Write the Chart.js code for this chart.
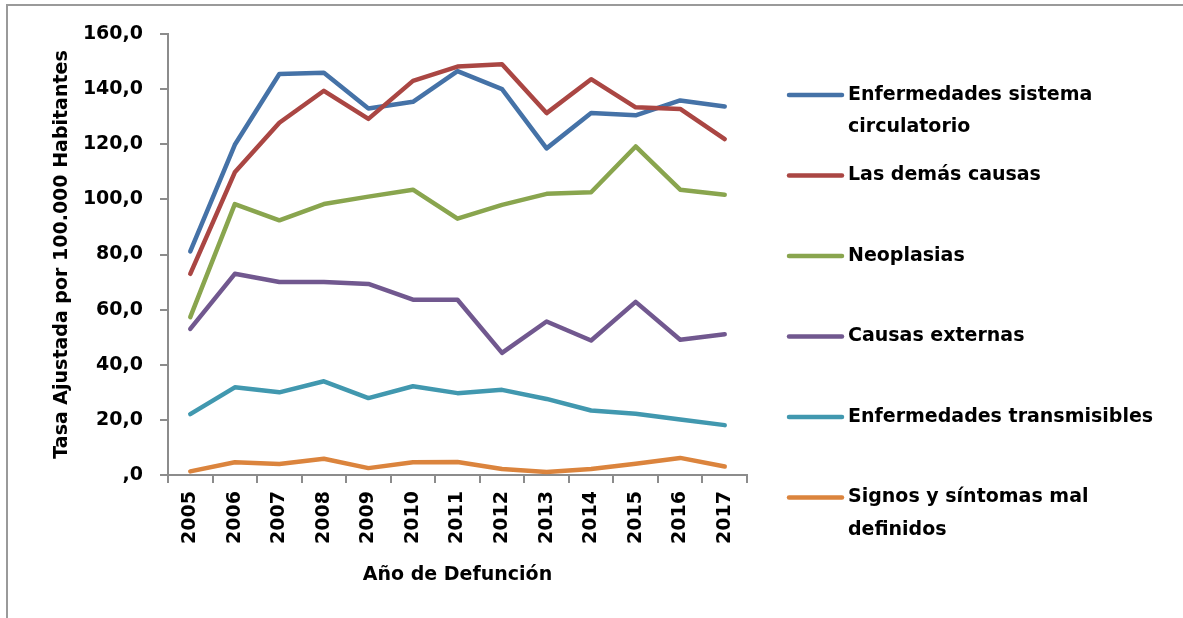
<!DOCTYPE html>
<html>
<head>
<meta charset="utf-8">
<script src="https://cdn.jsdelivr.net/npm/chart.js@4/dist/chart.umd.min.js"></script>
<style>
  html, body { margin: 0; padding: 0; background: #fff; }
  #wrap { position: relative; width: 1183px; height: 618px; overflow: hidden; }
  #frame { position: absolute; left: 6px; top: 4px; right: -4px; bottom: -4px;
           border-left: 2px solid #9a9a9a; border-top: 2px solid #9a9a9a; }
  canvas { position: absolute; left: 0; top: 0; }
</style>
</head>
<body>
<div id="wrap">
  <div id="frame"></div>
  <canvas id="chart" width="1183" height="618"></canvas>
</div>
<script>
  // años de defunción
  var years = ['2005','2006','2007','2008','2009','2010','2011','2012','2013','2014','2015','2016','2017'];

  // tasas ajustadas por 100.000 habitantes
  var circulatorio   = [81.1, 119.8, 145.5, 145.9, 133.0, 135.4, 146.5, 140.0, 118.5, 131.3, 130.5, 135.9, 133.7];
  var demasCausas    = [73.0, 109.8, 127.8, 139.4, 129.2, 143.0, 148.2, 149.0, 131.3, 143.6, 133.4, 132.8, 121.9];
  var neoplasias     = [57.3, 98.3, 92.4, 98.3, 101.0, 103.5, 93.0, 98.0, 102.0, 102.6, 119.2, 103.5, 101.7];
  var externas       = [53.0, 73.0, 70.0, 70.0, 69.3, 63.6, 63.6, 44.3, 55.7, 48.8, 62.8, 49.1, 51.1];
  var transmisibles  = [22.1, 31.8, 30.0, 34.0, 27.9, 32.2, 29.7, 30.9, 27.6, 23.4, 22.2, 20.1, 18.1];
  var malDefinidos   = [1.3, 4.6, 4.0, 5.9, 2.5, 4.6, 4.7, 2.2, 1.1, 2.2, 4.1, 6.2, 3.1];

  // leyenda (líneas de texto por serie)
  var legendText = [
    ['Enfermedades sistema', 'circulatorio'],
    ['Las demás causas'],
    ['Neoplasias'],
    ['Causas externas'],
    ['Enfermedades transmisibles'],
    ['Signos y síntomas mal', 'definidos']
  ];

  var yTicks = [0, 20, 40, 60, 80, 100, 120, 140, 160];

  var FONT = '"DejaVu Sans", sans-serif';
  var SIZE = 19;
  var AXIS = '#8c8c8c';

  function series(label, data, color, order) {
    return {
      label: label, data: data, borderColor: color, backgroundColor: color,
      borderWidth: 4.5, pointRadius: 0, tension: 0, fill: false,
      borderCapStyle: 'round', borderJoinStyle: 'round', order: order
    };
  }

  // ── Leyenda dibujada a la derecha ─────────────────────────────────────
  var sideLegend = {
    id: 'sideLegend',
    afterDraw: function (chart) {
      var ctx = chart.ctx;
      var y = 95;
      ctx.save();
      ctx.font = 'bold ' + SIZE + 'px ' + FONT;
      ctx.fillStyle = '#000';
      ctx.textBaseline = 'middle';
      ctx.lineCap = 'round';
      chart.data.datasets.forEach(function (ds, i) {
        ctx.strokeStyle = ds.borderColor;
        ctx.lineWidth = 4.5;
        ctx.beginPath();
        ctx.moveTo(789, y);
        ctx.lineTo(842, y);
        ctx.stroke();
        legendText[i].forEach(function (line, j) {
          ctx.fillText(line, 848, y + j * 32.5);
        });
        y += 80.5;
      });
      ctx.restore();
    }
  };

  var boldFont = { family: FONT, size: SIZE, weight: 'bold' };

  new Chart(document.getElementById('chart'), {
    type: 'line',
    data: {
      labels: years,
      datasets: [
        series('Enfermedades sistema circulatorio', circulatorio,  '#4572A7', 6),
        series('Las demás causas',                 demasCausas,   '#AA4643', 5),
        series('Neoplasias',                       neoplasias,    '#89A54E', 4),
        series('Causas externas',                  externas,      '#71588F', 3),
        series('Enfermedades transmisibles',       transmisibles, '#4198AF', 2),
        series('Signos y síntomas mal definidos',  malDefinidos,  '#DB843D', 1)
      ]
    },
    options: {
      responsive: false,
      animation: false,
      layout: { padding: { left: 0, top: 34, right: 436, bottom: 0 } },
      plugins: { legend: { display: false }, tooltip: { enabled: false } },
      scales: {
        x: {
          offset: true,
          grid: { offset: true, drawOnChartArea: false, color: AXIS, lineWidth: 2, tickLength: 8 },
          border: { color: AXIS, width: 2 },
          ticks: { color: '#000', minRotation: 90, maxRotation: 90, padding: 8, font: boldFont },
          title: {
            display: true, text: 'Año de Defunción', color: '#000', font: boldFont,
            padding: { top: 0, bottom: 32 }
          },
          afterFit: function (s) { s.height = 143; }
        },
        y: {
          min: 0, max: 160,
          afterBuildTicks: function (s) { s.ticks = yTicks.map(function (v) { return { value: v }; }); },
          grid: { drawOnChartArea: false, color: AXIS, lineWidth: 2, tickLength: 8 },
          border: { color: AXIS, width: 2 },
          ticks: {
            color: '#000', padding: 17, font: boldFont,
            callback: function (v) { return v === 0 ? ',0' : v.toFixed(1).replace('.', ','); }
          },
          title: {
            display: true, text: 'Tasa Ajustada por 100.000 Habitantes', color: '#000', font: boldFont,
            padding: { top: 51, bottom: 0 }
          },
          afterFit: function (s) { s.width = 168; }
        }
      }
    },
    plugins: [sideLegend]
  });
</script>
</body>
</html>
